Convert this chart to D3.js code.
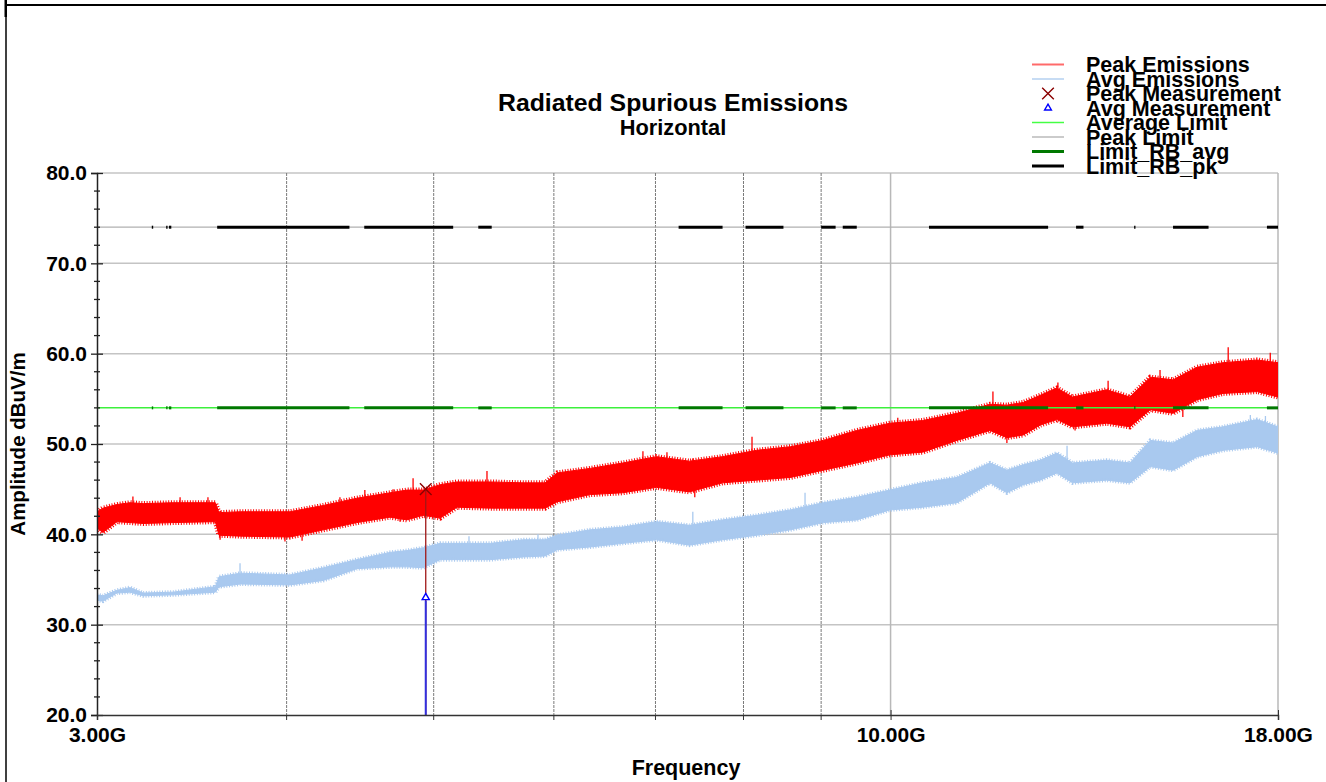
<!DOCTYPE html>
<html>
<head>
<meta charset="utf-8">
<script src="https://cdn.jsdelivr.net/npm/d3@7"></script>
<style>
  body { margin: 0; background: #fff; }
  svg { display: block; font-family: "Liberation Sans", Arial, sans-serif; font-weight: bold; }
</style>
</head>
<body>
<div id="chart"></div>
<script>
// envelope of the sweeps (GHz / dBuV/m)
const freqGHz = [3.00, 3.027, 3.092, 3.154, 3.218, 3.367, 3.59, 3.61, 3.73, 4.02, 4.23, 4.45, 4.68, 4.80, 4.92,
    5.05, 5.18, 5.45, 5.73, 5.92, 6.03, 6.34, 6.66, 7.01, 7.37, 7.75, 8.16, 8.59, 9.03, 9.50, 9.99,
    10.50, 11.06, 11.63, 11.93, 12.23, 12.55, 12.87, 13.18, 13.88, 14.38, 14.83, 15.35, 15.92, 16.56, 17.44, 18.00];
const peakHigh = [42.5, 42.9, 43.3, 43.5, 43.4, 43.5, 43.5, 42.4, 42.5, 42.5, 43.2, 44.0, 44.6, 44.9, 44.9,
    45.5, 45.8, 45.8, 45.7, 45.7, 46.8, 47.3, 47.9, 48.6, 48.1, 48.6, 49.3, 49.7, 50.4, 51.5, 52.3,
    52.6, 53.4, 54.4, 54.3, 54.6, 55.4, 56.2, 55.2, 56.0, 55.2, 57.4, 57.1, 58.5, 59.0, 59.3, 59.0];
const peakLow = [40.7, 40.2, 41.4, 41.3, 41.2, 41.3, 41.4, 39.9, 39.8, 39.7, 40.5, 41.3, 41.9, 41.6, 42.1,
    41.8, 43.0, 42.9, 42.9, 42.9, 43.6, 44.4, 44.6, 45.2, 44.7, 45.7, 46.0, 46.3, 47.1, 47.9, 48.8,
    49.1, 50.4, 51.5, 50.7, 51.0, 52.1, 52.7, 51.9, 52.3, 51.9, 53.8, 53.4, 54.9, 55.6, 55.8, 55.2];
const avgHigh = [33.3, 33.2, 33.8, 34.1, 33.5, 33.6, 34.2, 35.3, 35.7, 35.5, 36.3, 37.2, 38.0, 38.2, 38.5,
    39.0, 39.0, 39.0, 39.4, 39.4, 39.9, 40.5, 40.8, 41.4, 41.0, 41.6, 42.1, 42.7, 43.5, 44.1, 44.9,
    45.7, 46.3, 47.9, 47.1, 47.7, 48.2, 49.0, 47.9, 48.2, 47.9, 50.4, 50.1, 51.5, 51.9, 52.7, 51.9];
const avgLow = [32.7, 32.6, 33.5, 33.6, 33.2, 33.3, 33.6, 34.2, 34.5, 34.4, 34.9, 36.2, 36.4, 36.4, 36.3,
    37.2, 37.2, 37.2, 37.5, 37.6, 38.3, 38.6, 39.0, 39.4, 38.8, 39.4, 39.9, 40.5, 41.3, 41.6, 42.7,
    43.0, 43.5, 45.7, 44.6, 45.5, 46.0, 46.8, 45.7, 46.0, 45.7, 47.5, 47.1, 48.6, 49.3, 49.7, 49.0];

// the taller single spikes (up and down)
const peakSpikeFreq = [3.168, 3.403, 3.55, 4.337, 4.504, 4.701, 4.846, 5.421, 6.868, 7.123, 7.408, 8.104, 10.11, 11.68, 12.89, 13.91, 15.05, 16.69, 17.79];
const peakSpikeVal = [44.2, 44.1, 44.1, 44.1, 44.9, 45.0, 46.2, 47.0, 49.2, 49.1, 48.4, 50.8, 52.9, 55.8, 56.8, 57.0, 58.2, 60.7, 60.1];
const peakDipFreq = [3.616, 3.99, 4.095, 4.751, 5.048, 7.43, 8.59, 11.93, 13.23, 15.58];
const peakDipVal = [39.4, 39.2, 39.3, 41.4, 41.7, 44.1, 46.6, 50.1, 51.5, 53.0];
const avgSpikeFreq = [3.727, 5.275, 5.857, 7.408, 8.783, 13.07, 17.26, 17.66];
const avgSpikeVal = [36.8, 39.8, 40.0, 42.5, 44.6, 49.8, 53.2, 53.1];

// restricted bands (GHz)
const bandStart = [3.26, 3.332, 3.3458, 3.6, 4.5, 5.35, 7.25, 8.025, 9.0, 9.3, 10.6, 13.25, 14.47, 15.35, 17.7];
const bandStop  = [3.267, 3.339, 3.358, 4.4, 5.15, 5.46, 7.75, 8.5, 9.2, 9.5, 12.7, 13.4, 14.5, 16.2, 18.0];
const avgLimit = 54;
const peakLimit = 74;

const measFreq = [4.94];
const measPeak = [45.0];
const measAvg = [33.0];

const yMajor = [20, 30, 40, 50, 60, 70, 80];
const yMinor = d3.range(20, 81, 2);
const xLabeled = [3, 10, 18];
const xGrid = [4, 5, 6, 7, 8, 9];

const legendNames = ["Peak Emissions", "Avg Emissions", "Peak Measurement", "Avg Measurement",
    "Average Limit", "Peak Limit", "Limit_RB_avg", "Limit_RB_pk"];

const W = 1326, H = 782;
const pL = 97, pR = 1278, pT = 173, pB = 715;

const svg = d3.select("#chart").append("svg")
    .attr("width", W)
    .attr("height", H);

const x = d3.scaleLog().domain([3, 18]).range([pL, pR]);
const y = d3.scaleLinear().domain([20, 80]).range([pB, pT]);

// outer frame bits
svg.append("line").attr("x1", 5).attr("x2", W).attr("y1", 5).attr("y2", 5)
    .attr("stroke", "#000").attr("stroke-width", 2);
svg.append("line").attr("x1", 6).attr("x2", 6).attr("y1", 0).attr("y2", H)
    .attr("stroke", "#000").attr("stroke-width", 1.5);
svg.append("rect").attr("x", 4.5).attr("y", 0).attr("width", 2.5).attr("height", 17).attr("fill", "#000");

svg.append("defs").append("clipPath").attr("id", "plotclip")
    .append("rect").attr("x", pL).attr("y", pT).attr("width", pR - pL).attr("height", pB - pT);

// grid
svg.append("g").selectAll("line")
    .data(yMajor.filter(d => d > 20))
    .enter().append("line")
    .attr("x1", pL).attr("x2", pR)
    .attr("y1", d => y(d)).attr("y2", d => y(d))
    .attr("stroke", "#c4c4c4").attr("stroke-width", 1.5);

svg.append("g").selectAll("line")
    .data(xGrid)
    .enter().append("line")
    .attr("x1", d => x(d)).attr("x2", d => x(d))
    .attr("y1", pT).attr("y2", pB)
    .attr("stroke", "#7a7a7a").attr("stroke-width", 1)
    .attr("stroke-dasharray", "3,1");

svg.append("line")
    .attr("x1", x(10)).attr("x2", x(10)).attr("y1", pT).attr("y2", pB)
    .attr("stroke", "#b8b8b8").attr("stroke-width", 1.5);
svg.append("line")
    .attr("x1", pR).attr("x2", pR).attr("y1", pT).attr("y2", pB)
    .attr("stroke", "#b8b8b8").attr("stroke-width", 1.5);

// peak limit (thin grey)
svg.append("line")
    .attr("x1", pL).attr("x2", pR).attr("y1", y(peakLimit)).attr("y2", y(peakLimit))
    .attr("stroke", "#b0b0b0").attr("stroke-width", 1.2);

// traces
const rows = freqGHz.map((f, i) => ({f: f, ph: peakHigh[i], pl: peakLow[i], ah: avgHigh[i], al: avgLow[i]}));
const plot = svg.append("g").attr("clip-path", "url(#plotclip)");

function envAt(f, key) {
    let i = d3.bisectRight(freqGHz, f) - 1;
    i = Math.max(0, Math.min(i, freqGHz.length - 2));
    let t = (Math.log(f) - Math.log(freqGHz[i])) / (Math.log(freqGHz[i + 1]) - Math.log(freqGHz[i]));
    return rows[i][key] + t * (rows[i + 1][key] - rows[i][key]);
}

// draws a band plus a comb-like fringe on both edges so it reads as a dense sweep
function drawTrace(hiKey, loKey, color, fringe) {
    let area = d3.area().x(d => x(d.f)).y0(d => y(d[loKey])).y1(d => y(d[hiKey]));
    plot.append("path").datum(rows)
        .attr("d", area)
        .attr("fill", color).attr("stroke", color).attr("stroke-width", 1);
    [hiKey, loKey].forEach(k => {
        plot.append("path").datum(rows)
            .attr("d", d3.line().x(d => x(d.f)).y(d => y(d[k])))
            .attr("fill", "none").attr("stroke", color)
            .attr("stroke-width", fringe).attr("stroke-dasharray", "1,1.7");
    });
}

function drawSpikes(freqs, vals, baseKey, color) {
    plot.append("g").selectAll("line")
        .data(freqs)
        .enter().append("line")
        .attr("x1", d => x(d)).attr("x2", d => x(d))
        .attr("y1", d => y(envAt(d, baseKey)))
        .attr("y2", (d, i) => y(vals[i]))
        .attr("stroke", color).attr("stroke-width", 1.3);
}

drawTrace("ah", "al", "#a9c9ef", 4);
drawSpikes(avgSpikeFreq, avgSpikeVal, "ah", "#a9c9ef");

drawTrace("ph", "pl", "#ff0000", 5);
drawSpikes(peakSpikeFreq, peakSpikeVal, "ph", "#ff0000");
drawSpikes(peakDipFreq, peakDipVal, "pl", "#ff0000");

// average limit + restricted band limits on top
svg.append("line")
    .attr("x1", pL).attr("x2", pR).attr("y1", y(avgLimit)).attr("y2", y(avgLimit))
    .attr("stroke", "#3cf03c").attr("stroke-width", 1.5);

const bands = bandStart.map((s, i) => [s, bandStop[i]]);
svg.append("g").selectAll("line")
    .data(bands)
    .enter().append("line")
    .attr("x1", d => x(d[0])).attr("x2", d => x(d[1]))
    .attr("y1", y(avgLimit)).attr("y2", y(avgLimit))
    .attr("stroke", "#007800").attr("stroke-width", 3);
svg.append("g").selectAll("line")
    .data(bands)
    .enter().append("line")
    .attr("x1", d => x(d[0])).attr("x2", d => x(d[1]))
    .attr("y1", y(peakLimit)).attr("y2", y(peakLimit))
    .attr("stroke", "#000").attr("stroke-width", 3);

// measurements
measFreq.forEach((f, i) => {
    let cx = x(f);
    svg.append("line").attr("x1", cx).attr("x2", cx)
        .attr("y1", y(measPeak[i])).attr("y2", pB)
        .attr("stroke", "#a01818").attr("stroke-width", 1.3);
    svg.append("line").attr("x1", cx).attr("x2", cx)
        .attr("y1", y(measAvg[i]) + 3).attr("y2", pB)
        .attr("stroke", "#3030e0").attr("stroke-width", 2);
    svg.append("path")
        .attr("d", d3.symbol(d3.symbolX, 90)())
        .attr("transform", "translate(" + cx + "," + y(measPeak[i]) + ")")
        .attr("stroke", "#8b0000").attr("stroke-width", 1.4).attr("fill", "none");
    svg.append("path")
        .attr("d", d3.symbol(d3.symbolTriangle, 22)())
        .attr("transform", "translate(" + cx + "," + y(measAvg[i]) + ")")
        .attr("stroke", "#0000ff").attr("stroke-width", 1.4).attr("fill", "#fff");
});

// axes
const yAxis = svg.append("g")
    .attr("transform", "translate(" + pL + ",0)")
    .call(d3.axisLeft(y).tickValues(yMajor).tickFormat(d3.format(".1f")).tickSize(6).tickPadding(4));
yAxis.select(".domain").attr("stroke", "#222").attr("stroke-width", 1.5);
yAxis.selectAll(".tick line").attr("x1", 6).attr("stroke", "#222").attr("stroke-width", 1.3);
yAxis.selectAll("text").style("font-size", "21px").style("font-family", "Liberation Sans, Arial, sans-serif")
    .style("font-weight", "bold").attr("fill", "#000");

svg.append("g").selectAll("line")
    .data(yMinor.filter(d => yMajor.indexOf(d) < 0))
    .enter().append("line")
    .attr("x1", pL - 3).attr("x2", pL + 3)
    .attr("y1", d => y(d)).attr("y2", d => y(d))
    .attr("stroke", "#222").attr("stroke-width", 1.3);

const xAxis = svg.append("g")
    .attr("transform", "translate(0," + pB + ")")
    .call(d3.axisBottom(x).tickValues(xLabeled).tickFormat(d => d.toFixed(2) + "G").tickSize(5).tickPadding(7));
xAxis.select(".domain").attr("stroke", "#333").attr("stroke-width", 1.5);
xAxis.selectAll(".tick line").attr("y1", -5).attr("stroke", "#333");
xAxis.selectAll("text").style("font-size", "21px").style("font-family", "Liberation Sans, Arial, sans-serif")
    .style("font-weight", "bold").attr("fill", "#000");

svg.append("g").selectAll("line")
    .data(xGrid)
    .enter().append("line")
    .attr("x1", d => x(d)).attr("x2", d => x(d))
    .attr("y1", pB).attr("y2", pB + 5)
    .attr("stroke", "#333").attr("stroke-width", 1);

// titles
svg.append("text").text("Radiated Spurious Emissions")
    .attr("x", 673).attr("y", 111).attr("text-anchor", "middle")
    .style("font-size", "24.8px");
svg.append("text").text("Horizontal")
    .attr("x", 673).attr("y", 135).attr("text-anchor", "middle")
    .style("font-size", "21.8px");
svg.append("text").text("Frequency")
    .attr("x", 686).attr("y", 775).attr("text-anchor", "middle")
    .style("font-size", "21.5px");
svg.append("text").text("Amplitude dBuV/m")
    .attr("text-anchor", "middle")
    .attr("transform", "translate(25,444) rotate(-90)")
    .style("font-size", "20.5px");

// legend
const leg = svg.append("g");
legendNames.forEach((name, i) => {
    let ly = 64.5 + i * 14.5;
    if (i == 0) {
        leg.append("line").attr("x1", 1032).attr("x2", 1064).attr("y1", ly).attr("y2", ly)
            .attr("stroke", "#ff6a6a").attr("stroke-width", 2);
    } else if (i == 1) {
        leg.append("line").attr("x1", 1032).attr("x2", 1064).attr("y1", ly).attr("y2", ly)
            .attr("stroke", "#a9c9ef").attr("stroke-width", 1.3);
    } else if (i == 2) {
        leg.append("path").attr("d", d3.symbol(d3.symbolX, 90)())
            .attr("transform", "translate(1048," + ly + ")")
            .attr("stroke", "#8b0000").attr("stroke-width", 1.4).attr("fill", "none");
    } else if (i == 3) {
        leg.append("path").attr("d", d3.symbol(d3.symbolTriangle, 20)())
            .attr("transform", "translate(1048," + ly + ")")
            .attr("stroke", "#0000ff").attr("stroke-width", 1.4).attr("fill", "#fff");
    } else if (i == 4) {
        leg.append("line").attr("x1", 1032).attr("x2", 1064).attr("y1", ly).attr("y2", ly)
            .attr("stroke", "#44ff44").attr("stroke-width", 1.5);
    } else if (i == 5) {
        leg.append("line").attr("x1", 1032).attr("x2", 1064).attr("y1", ly).attr("y2", ly)
            .attr("stroke", "#a8a8a8").attr("stroke-width", 1.2);
    } else if (i == 6) {
        leg.append("line").attr("x1", 1032).attr("x2", 1064).attr("y1", ly).attr("y2", ly)
            .attr("stroke", "#007800").attr("stroke-width", 3);
    } else {
        leg.append("line").attr("x1", 1032).attr("x2", 1064).attr("y1", ly).attr("y2", ly)
            .attr("stroke", "#000").attr("stroke-width", 3);
    }
    leg.append("text").text(name)
        .attr("x", 1086).attr("y", ly).attr("dy", "0.35em")
        .style("font-size", "21.5px");
});
</script>
</body>
</html>
